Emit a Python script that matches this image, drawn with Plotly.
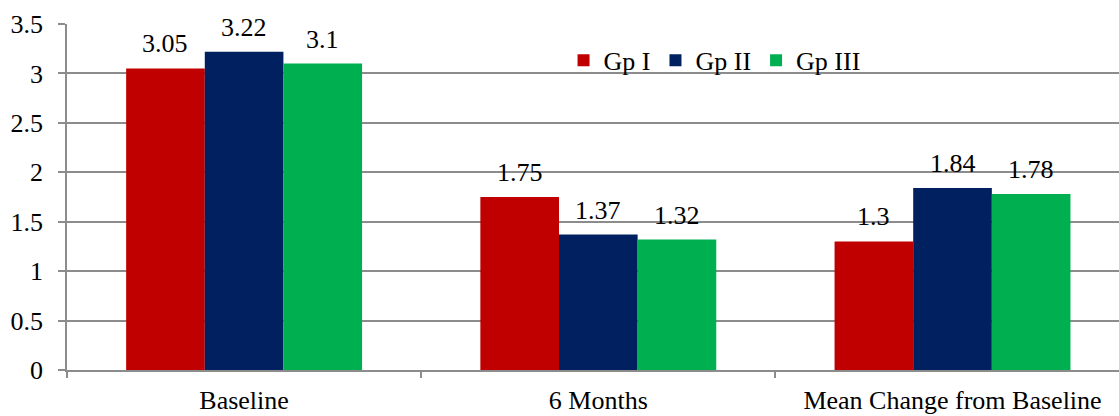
import plotly.graph_objects as go

categories = ["Baseline", "6 Months", "Mean Change from Baseline"]
groups = ["Gp I", "Gp II", "Gp III"]
gp1 = [3.05, 1.75, 1.3]
gp2 = [3.22, 1.37, 1.84]
gp3 = [3.1, 1.32, 1.78]
colors = ["#C00000", "#002060", "#00B050"]

series = [gp1, gp2, gp3]
font_family = "Liberation Serif"
fsize = 26
bargap = 0.334

fig = go.Figure()
for name, vals, col in zip(groups, series, colors):
    fig.add_trace(go.Bar(
        x=categories, y=vals, name=name,
        marker=dict(color=col, line=dict(width=0)),
    ))

# value labels above each bar
bar_w = (1 - bargap) / len(series)
annotations = []
for j, vals in enumerate(series):
    offset = (j - (len(series) - 1) / 2) * bar_w
    for i, v in enumerate(vals):
        annotations.append(dict(
            x=i + offset, y=v, xref="x", yref="y",
            text=f"{v:g}", showarrow=False,
            yanchor="bottom", yshift=8,
            font=dict(family=font_family, size=fsize, color="#000"),
        ))

fig.update_layout(
    width=1119, height=416,
    margin=dict(l=67, r=0, t=24, b=46),
    paper_bgcolor="white", plot_bgcolor="white",
    barmode="group", bargap=bargap, bargroupgap=0,
    font=dict(family=font_family, size=fsize, color="#000"),
    showlegend=True,
    legend=dict(
        orientation="h", x=0.472, y=0.895, xanchor="left", yanchor="middle",
        font=dict(family=font_family, size=fsize, color="#000"),
        bgcolor="rgba(0,0,0,0)", itemwidth=30, traceorder="normal",
    ),
    annotations=annotations,
)
fig.update_xaxes(
    type="category", tickson="boundaries", ticks="outside", ticklen=6,
    tickcolor="#8c8c8c", tickwidth=1.5,
    showline=True, linecolor="#8c8c8c", linewidth=1.5,
    showgrid=False, range=[-0.5, 2.47], automargin=False,
    ticklabelstandoff=6,
    tickfont=dict(family=font_family, size=fsize, color="#000"),
)
fig.update_yaxes(
    range=[0, 3.5], dtick=0.5, tick0=0,
    ticks="outside", ticklen=7, tickcolor="#8c8c8c", tickwidth=1.5,
    showgrid=True, gridcolor="#8c8c8c", gridwidth=1.5,
    showline=True, linecolor="#8c8c8c", linewidth=1.5,
    zeroline=False, automargin=False, ticklabelstandoff=10,
    tickfont=dict(family=font_family, size=fsize, color="#000"),
)

fig.write_html("out.html")
